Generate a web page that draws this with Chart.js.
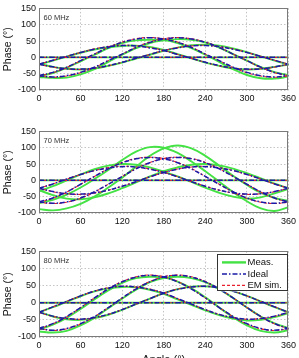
<!DOCTYPE html>
<html><head><meta charset="utf-8">
<script src="https://cdn.jsdelivr.net/npm/chart.js@4/dist/chart.umd.min.js"></script>
<style>
html,body{margin:0;padding:0;background:#fff;width:299px;height:358px;overflow:hidden;position:relative;}
.wrap{position:absolute;left:0;width:299px;}
canvas{display:block;}
</style></head><body>
<div class="wrap" style="top:0px;height:110px"><canvas id="c1" width="299" height="110"></canvas></div>
<div class="wrap" style="top:123px;height:110px"><canvas id="c2" width="299" height="110"></canvas></div>
<div class="wrap" style="top:243px;height:124px"><canvas id="c3" width="299" height="124"></canvas></div>
<script>
// ---- data ----
const angles = [0,20,40,60,80,100,120,140,160,180,200,220,240,260,280,300,320,340,360];
const xTicks = [0,60,120,180,240,300,360];
const yTicks = [-100,-50,0,50,100,150];
const freqLabels = ['60 MHz','70 MHz','80 MHz'];
const seriesNames = ['Meas.','Ideal','EM sim.'];
const flat = [0,0,0,0,0,0,0,0,0,0,0,0,0,0,0,0,0,0,0];

// 60 MHz
const meas60 = [
  flat,
  [-58,-48,-32,-12,8,28,44,52,54,53,44,28,8,-14,-36,-54,-64,-65,-59],
  [-60,-63,-62,-52,-36,-14,8,28,44,52,56,54,46,30,10,-10,-30,-45,-55],
  [-22,-10,2,14,24,31,35,36,32,23,10,-3,-16,-26,-34,-37,-35,-29,-22],
  [-20,-29,-35,-37,-34,-26,-16,-4,8,20,30,37,39,36,27,16,3,-10,-22]
];
const ideal60 = [
  flat,
  [-56,-46,-30,-10,10,30,46,56,60,56,46,30,10,-10,-30,-46,-56,-60,-56],
  [-56,-60,-56,-46,-30,-10,10,30,46,56,60,56,46,30,10,-10,-30,-46,-56],
  [-21,-9,3,15,25,33,36,35,29,21,9,-3,-15,-25,-33,-36,-35,-29,-21],
  [-21,-29,-35,-36,-33,-25,-15,-3,9,21,29,35,36,33,25,15,3,-9,-21]
];
const em60 = [
  flat,
  [-57,-47,-31,-10,10,31,47,57,61,57,47,31,10,-10,-31,-47,-57,-61,-57],
  [-57,-61,-57,-47,-31,-10,10,31,47,57,61,57,47,31,10,-10,-31,-47,-57],
  [-21,-9,3,15,26,33,37,35,30,21,9,-3,-15,-26,-33,-37,-35,-30,-21],
  [-21,-30,-35,-37,-33,-26,-15,-3,9,21,30,35,37,33,26,15,3,-9,-21]
];
// 70 MHz
const meas70 = [
  flat,
  [-70,-60,-44,-22,4,32,62,88,102,100,84,58,28,-4,-36,-64,-86,-94,-82],
  [-88,-92,-86,-72,-50,-22,8,42,75,98,107,98,75,45,14,-14,-38,-54,-63],
  [-33,-18,0,18,34,45,50,48,40,27,12,-5,-22,-38,-50,-56,-52,-40,-26],
  [-30,-45,-56,-58,-52,-40,-24,-6,12,28,40,48,50,46,36,22,6,-10,-24]
];
const ideal70 = [
  flat,
  [-66,-54,-35,-12,12,35,54,66,70,66,54,35,12,-12,-35,-54,-66,-70,-66],
  [-66,-70,-66,-54,-35,-12,12,35,54,66,70,66,54,35,12,-12,-35,-54,-66],
  [-24,-11,4,18,30,38,42,41,34,24,11,-4,-18,-30,-38,-42,-41,-34,-24],
  [-24,-34,-41,-42,-38,-30,-18,-4,11,24,34,41,42,38,30,18,4,-11,-24]
];
const em70 = [
  flat,
  [-67,-55,-36,-12,12,36,55,67,71,67,55,36,12,-12,-36,-55,-67,-71,-67],
  [-67,-71,-67,-55,-36,-12,12,36,55,67,71,67,55,36,12,-12,-36,-55,-67],
  [-24,-11,4,18,30,39,43,41,35,24,11,-4,-18,-30,-39,-43,-41,-35,-24],
  [-24,-35,-41,-43,-39,-30,-18,-4,11,24,35,41,43,39,30,18,4,-11,-24]
];
// 80 MHz
const meas80 = [
  flat,
  [-78,-64,-44,-18,10,36,58,72,76,74,62,42,16,-14,-42,-66,-82,-87,-80],
  [-84,-87,-82,-66,-44,-16,12,38,60,72,76,72,60,40,14,-14,-40,-60,-74],
  [-28,-13,3,19,33,42,46,45,38,26,10,-6,-22,-36,-46,-52,-50,-42,-30],
  [-27,-40,-48,-50,-45,-35,-21,-4,12,28,40,47,48,44,34,20,4,-13,-28]
];
const ideal80 = [
  flat,
  [-75,-61,-40,-14,14,40,61,75,80,75,61,40,14,-14,-40,-61,-75,-80,-75],
  [-75,-80,-75,-61,-40,-14,14,40,61,75,80,75,61,40,14,-14,-40,-61,-75],
  [-28,-12,4,20,34,43,48,46,39,28,12,-4,-20,-34,-43,-48,-46,-39,-28],
  [-28,-39,-46,-48,-43,-34,-20,-4,12,28,39,46,48,43,34,20,4,-12,-28]
];
const em80 = [
  flat,
  [-76,-62,-41,-14,14,41,62,76,81,76,62,41,14,-14,-41,-62,-76,-81,-76],
  [-76,-81,-76,-62,-41,-14,14,41,62,76,81,76,62,41,14,-14,-41,-62,-76],
  [-28,-12,4,20,34,44,48,46,40,28,12,-4,-20,-34,-44,-48,-46,-40,-28],
  [-28,-40,-46,-48,-44,-34,-20,-4,12,28,40,46,48,44,34,20,4,-12,-28]
];

// ---- styling ----
const FONT = "'Liberation Sans', Arial, sans-serif";
const styles = [
  {color:'#44e244', width:1.9, dash:[], order:3},
  {color:'#1a1aa8', width:1.5, dash:[5,2,1.5,2], order:1},
  {color:'#e8202e', width:1.1, dash:[3,2], order:2}
];

const framePlugin = {
  id:'frame',
  afterDatasetsDraw(chart){
    const {ctx, chartArea:a} = chart;
    ctx.save();
    ctx.strokeStyle = '#7a7a7a'; ctx.lineWidth = 1;
    ctx.strokeRect(Math.round(a.left)+0.5, Math.round(a.top)+0.5, Math.round(a.right-a.left)-1, Math.round(a.bottom-a.top)-1);
    const o = chart.options.plugins.frame || {};
    if (o.label){
      ctx.fillStyle = '#333'; ctx.font = '7.5px ' + FONT;
      ctx.textBaseline = 'middle'; ctx.textAlign = 'left';
      ctx.fillText(o.label, a.left + 4.5, a.top + 10);
    }
    if (o.legend){
      const w = 71, h = 37;
      const bx = a.right - w, by = a.top + 3;
      ctx.fillStyle = '#fff';
      ctx.fillRect(bx, by, w, h);
      ctx.strokeStyle = '#333'; ctx.lineWidth = 1;
      ctx.strokeRect(Math.round(bx)+0.5, Math.round(by)+0.5, w-1, h-1);
      const offs = [8, 19.5, 31];
      seriesNames.forEach((name, i) => {
        const st = styles[i];
        const y = by + offs[i];
        ctx.save();
        ctx.strokeStyle = st.color; ctx.lineWidth = i===0 ? 2.4 : st.width;
        ctx.setLineDash(st.dash);
        ctx.beginPath(); ctx.moveTo(bx+4.5, y); ctx.lineTo(bx+28.5, y); ctx.stroke();
        ctx.restore();
        ctx.fillStyle = '#111'; ctx.font = '9.5px ' + FONT;
        ctx.textBaseline = 'middle'; ctx.textAlign = 'left';
        ctx.fillText(name, bx + 30, y);
      });
    }
    ctx.restore();
  }
};

function buildDatasets(meas, ideal, em){
  const mk = arr => angles.map((a,i) => ({x:a, y:arr[i]}));
  const ds = [];
  [meas, ideal, em].forEach((group, gi) => {
    const st = styles[gi];
    group.forEach(s => ds.push({
      label: seriesNames[gi], data: mk(s),
      borderColor: st.color, borderWidth: st.width, borderDash: st.dash,
      pointRadius: 0, tension: 0.4, fill: false, order: st.order
    }));
  });
  return ds;
}

function makeChart(id, idx, meas, ideal, em, last){
  const xH = last ? 30 : 20;
  return new Chart(document.getElementById(id), {
    type: 'line',
    data: { datasets: buildDatasets(meas, ideal, em) },
    options: {
      responsive: false, animation: false, events: [],
      layout: { padding: { top: 5, right: 10, bottom: 0, left: 0 } },
      plugins: {
        legend: { display: false }, tooltip: { enabled: false },
        frame: { label: freqLabels[idx], legend: last }
      },
      scales: {
        x: {
          type: 'linear', min: 0, max: 360,
          afterBuildTicks: s => { s.ticks = xTicks.map(v => ({value: v})); },
          afterFit: s => { s.height = xH; },
          ticks: { font: { size: 9, family: FONT }, color: '#111', padding: 3, maxRotation: 0, autoSkip: false },
          grid: { color: '#b5b5b5', lineWidth: 0.8, drawTicks: false },
          border: { display: false, dash: [1.5, 2] },
          title: { display: last, text: 'Angle (°)', font: { size: 11, family: FONT }, color: '#111', padding: { top: 0, bottom: 0 } }
        },
        y: {
          min: -100, max: 150,
          afterBuildTicks: s => { s.ticks = yTicks.map(v => ({value: v})); },
          afterFit: s => { s.width = 39; },
          ticks: { font: { size: 9, family: FONT }, color: '#111', padding: 3, autoSkip: false },
          grid: { color: '#b5b5b5', lineWidth: 0.8, drawTicks: false },
          border: { display: false, dash: [1.5, 2] },
          title: { display: true, text: 'Phase (°)', font: { size: 10.5, family: FONT }, color: '#111', padding: { top: 2, bottom: 0 } }
        }
      }
    },
    plugins: [framePlugin]
  });
}

makeChart('c1', 0, meas60, ideal60, em60, false);
makeChart('c2', 1, meas70, ideal70, em70, false);
makeChart('c3', 2, meas80, ideal80, em80, true);
</script>
</body></html>
